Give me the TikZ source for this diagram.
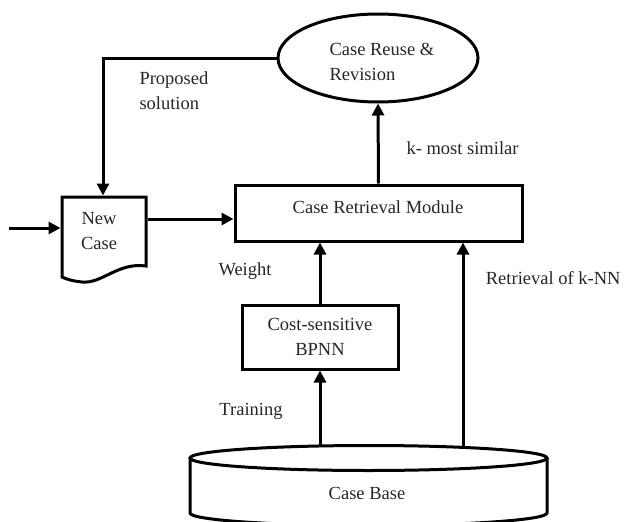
\documentclass[tikz,border=0pt]{standalone}
\usepackage{fontspec}
\setmainfont{Liberation Serif}
\usetikzlibrary{arrows.meta,shapes.geometric}
\begin{document}
\begin{tikzpicture}[x=1pt,y=-1pt,line width=3pt,
  every node/.style={font=\fontsize{18.5}{25}\selectfont, inner sep=0pt},
  arr/.style={-{Triangle[length=12pt,width=12pt]}},
  boxnode/.style={draw, rectangle},
  lbl/.style={text=black!85}]
\useasboundingbox (0,0) rectangle (624,522);
% nodes
\node[draw, ellipse, minimum width=200pt, minimum height=88pt] (reuse) at (378,58) {};
\node[align=left, anchor=west, lbl] (reusetxt) at (328,62) {Case Reuse \&\\Revision};
\node[boxnode, minimum width=287pt, minimum height=56pt] (crm) at (378.5,213) {};
\node[lbl] (crmtxt) at (378,207) {Case Retrieval Module};
\node[boxnode, minimum width=156pt, minimum height=64pt, align=center, lbl] (cost) at (320,337) {Cost-sensitive\\BPNN};
% new case document
\node[minimum width=84pt, minimum height=80pt] (newcase) at (104,237) {};
\draw (62,277) -- (62,197) -- (146,197) -- (146,266)
      .. controls (118,262) and (102,284) .. (82,282)
      .. controls (72,281) and (66,279) .. (62,277) -- cycle;
\node[align=center, lbl] (newtxt) at (99,231) {New\\Case};
% case base cylinder
\draw (190,458) -- (190,513) arc[start angle=180,end angle=360,x radius=178.5pt,y radius=12.5pt] -- (547,458);
\draw (368.5,458) ellipse[x radius=178.5pt,y radius=12.5pt];
\node[lbl] (basetxt) at (367,493) {Case Base};
\coordinate (baseA) at (320,446);
\coordinate (baseB) at (463,447);
\coordinate (inA) at (9,228);
% connectors
\draw[arr] (inA) -- ([yshift=9pt]newcase.west);
\draw[arr] ([yshift=18pt]newcase.east) -- ([yshift=18pt]newcase.east -| crm.west);
\draw[arr] (reuse.west) -| ([xshift=-1pt]newcase.north);
\draw[arr] (crm.north) -- (reuse.south);
\draw[arr] (cost.north) -- (cost.north |- crm.south);
\draw[arr] (baseA) -- (cost.south);
\draw[arr] (baseB) -- (baseB |- crm.south);
% labels
\node[align=left, anchor=west, lbl] (lprop) at (138,90.5) {Proposed\\solution};
\node[anchor=west, lbl] (lk) at (405,148) {k- most similar};
\node[lbl] (lw) at (245,271) {Weight};
\node[lbl] (lt) at (251,411) {Training};
\node[anchor=east, lbl] (lr) at (622,278) {Retrieval of k-NN};
\end{tikzpicture}
\end{document}
